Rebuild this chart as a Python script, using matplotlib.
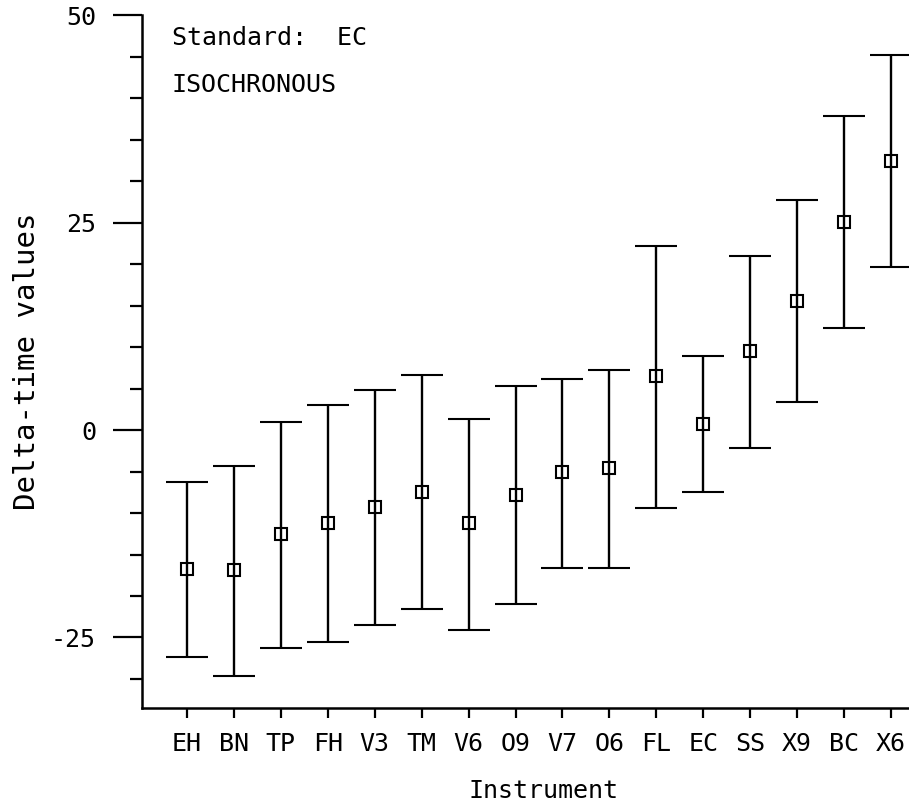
import numpy as np
import matplotlib
matplotlib.use('Agg')
import matplotlib.pyplot as plt
from matplotlib.ticker import MultipleLocator

# Instruments and delta-time values
instruments = ['EH', 'BN', 'TP', 'FH', 'V3', 'TM', 'V6', 'O9',
               'V7', 'O6', 'FL', 'EC', 'SS', 'X9', 'BC', 'X6']
mean = [-16.7, -16.9, -12.5, -11.2, -9.3, -7.5, -11.2, -7.8,
        -5.0, -4.6, 6.5, 0.7, 9.5, 15.6, 25.1, 32.4]
upper = [-6.2, -4.3, 1.0, 3.0, 4.8, 6.6, 1.3, 5.3,
         6.2, 7.2, 22.2, 8.9, 21.0, 27.7, 37.9, 45.2]
lower = [-27.3, -29.7, -26.3, -25.6, -23.5, -21.6, -24.1, -21.0,
         -16.6, -16.6, -9.4, -7.5, -2.1, 3.4, 12.3, 19.6]

plt.rcParams['font.family'] = ['DejaVu Sans Mono']
plt.rcParams['axes.unicode_minus'] = False

x = np.arange(1, len(instruments) + 1)
mean = np.array(mean)
yerr = [mean - np.array(lower), np.array(upper) - mean]

fig = plt.figure(figsize=(9.09, 8.05), dpi=100)
ax = fig.add_axes([0.156, 0.1205, 0.844, 0.8605])

ax.errorbar(x, mean, yerr=yerr, fmt='s', color='black', mfc='none',
            mec='black', ms=8.5, mew=1.5, elinewidth=1.7,
            capsize=15, capthick=2.4)

ax.set_xlim(0.04, 16.38)
ax.set_ylim(-33.5, 50)
ax.set_xticks(x)
ax.set_xticklabels(instruments, fontsize=18)
ax.set_yticks([-25, 0, 25, 50])
ax.yaxis.set_minor_locator(MultipleLocator(5))
ax.tick_params(axis='y', which='major', length=21, width=1.6, labelsize=18, pad=12)
ax.tick_params(axis='y', which='minor', length=8.5, width=1.6)
ax.tick_params(axis='x', which='major', length=7, width=1.6, pad=10)

for side in ['top', 'right']:
    ax.spines[side].set_visible(False)
for side in ['left', 'bottom']:
    ax.spines[side].set_linewidth(1.8)

ax.set_xlabel('Instrument', fontsize=18)
ax.set_ylabel('Delta-time values', fontsize=21)
ax.xaxis.set_label_coords(0.523, -0.102)
ax.yaxis.set_label_coords(-0.131, 0.5)

ax.text(0.039, 0.957, 'Standard:  EC', transform=ax.transAxes,
        fontsize=18, va='baseline')
ax.text(0.039, 0.889, 'ISOCHRONOUS', transform=ax.transAxes,
        fontsize=18, va='baseline')

fig.savefig('out.png', dpi=100)
